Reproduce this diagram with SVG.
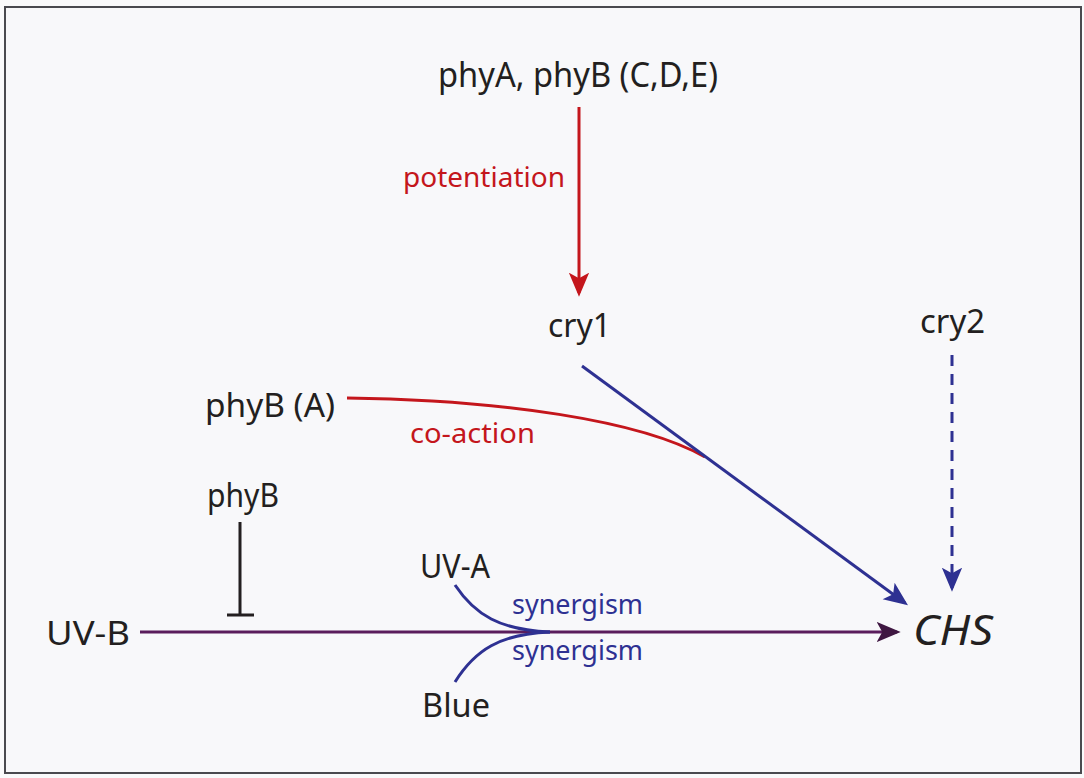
<svg xmlns="http://www.w3.org/2000/svg" width="1084" height="778" viewBox="0 0 1084 778">
<style>
text{font-family:"Noto Sans","Open Sans",sans-serif;fill:#231f20;font-size:33px}
.red{fill:#c4161c}
.blue{fill:#2e3192}
.lbl{font-size:28px}
.top{font-size:35px}
.chs{font-size:42px;font-style:italic}
.ln{fill:none;stroke-width:3}
</style>
<defs>
<marker id="ar" markerWidth="24" markerHeight="26" refX="22" refY="11" orient="auto" markerUnits="userSpaceOnUse" viewBox="0 0 26 22">
<path d="M0,0 L26,11 L0,22 L6,11 Z" fill="#c4161c"/>
</marker>
<marker id="ab" markerWidth="24" markerHeight="26" refX="22" refY="11" orient="auto" markerUnits="userSpaceOnUse" viewBox="0 0 26 22">
<path d="M0,0 L26,11 L0,22 L6,11 Z" fill="#2e3192"/>
</marker>
<marker id="ap" markerWidth="24" markerHeight="26" refX="22" refY="11" orient="auto" markerUnits="userSpaceOnUse" viewBox="0 0 26 22">
<path d="M0,0 L26,11 L0,22 L6,11 Z" fill="#3f1741"/>
</marker>
</defs>
<rect x="0" y="0" width="1084" height="778" fill="#fafafb"/>
<rect x="5" y="7" width="1076" height="766" fill="#f8f8fa" stroke="#4a4a4f" stroke-width="2"/>
<g id="connectors">
<line class="ln" x1="579" y1="107" x2="579" y2="293" stroke="#c4161c" marker-end="url(#ar)"/>
<path class="ln" d="M347,398 C500,400 640,420 705,457" stroke="#c4161c"/>
<line class="ln" x1="582" y1="366" x2="905" y2="603" stroke="#2e3192" stroke-width="2.5" marker-end="url(#ab)"/>
<line class="ln" x1="952" y1="355" x2="952" y2="588" stroke="#2e3192" stroke-width="2.5" stroke-dasharray="11,8" marker-end="url(#ab)"/>
<line class="ln" x1="240" y1="522" x2="240" y2="615" stroke="#231f20" stroke-width="2.5"/>
<line class="ln" x1="227" y1="615" x2="254" y2="615" stroke="#231f20" stroke-width="2.5"/>
<line class="ln" x1="140" y1="632" x2="897" y2="632" stroke="#5a1d5c" stroke-width="3.5" marker-end="url(#ap)"/>
<path class="ln" d="M455,585 C475,615 500,630 550,632" stroke="#2e3192" stroke-width="2.5"/>
<path class="ln" d="M455,682 C475,650 500,634 550,632" stroke="#2e3192" stroke-width="2.5"/>
</g>
<g id="phyAB"><text class="top" x="438" y="87" textLength="280" lengthAdjust="spacingAndGlyphs">phyA, phyB (C,D,E)</text></g>
<g id="potentiation"><text class="red lbl" x="403" y="187" textLength="162" lengthAdjust="spacingAndGlyphs">potentiation</text></g>
<g id="cry1"><text x="548" y="337" textLength="63" lengthAdjust="spacingAndGlyphs">cry1</text></g>
<g id="cry2"><text x="920" y="333" textLength="65" lengthAdjust="spacingAndGlyphs">cry2</text></g>
<g id="phyBA"><text x="205" y="417" textLength="130" lengthAdjust="spacingAndGlyphs">phyB (A)</text></g>
<g id="coaction"><text class="red lbl" x="410" y="443" textLength="125" lengthAdjust="spacingAndGlyphs">co-action</text></g>
<g id="phyB"><text x="207" y="507" textLength="72" lengthAdjust="spacingAndGlyphs">phyB</text></g>
<g id="UVB"><text x="46" y="645" textLength="84" lengthAdjust="spacingAndGlyphs">UV-B</text></g>
<g id="CHS"><text class="chs" x="913" y="645" textLength="80" lengthAdjust="spacingAndGlyphs">CHS</text></g>
<g id="UVA"><text x="420" y="578" textLength="70" lengthAdjust="spacingAndGlyphs">UV-A</text></g>
<g id="syn1"><text class="blue lbl" x="512" y="614" textLength="131" lengthAdjust="spacingAndGlyphs">synergism</text></g>
<g id="syn2"><text class="blue lbl" x="512" y="660" textLength="131" lengthAdjust="spacingAndGlyphs">synergism</text></g>
<g id="Blue"><text x="422" y="717" textLength="68" lengthAdjust="spacingAndGlyphs">Blue</text></g>
</svg>
